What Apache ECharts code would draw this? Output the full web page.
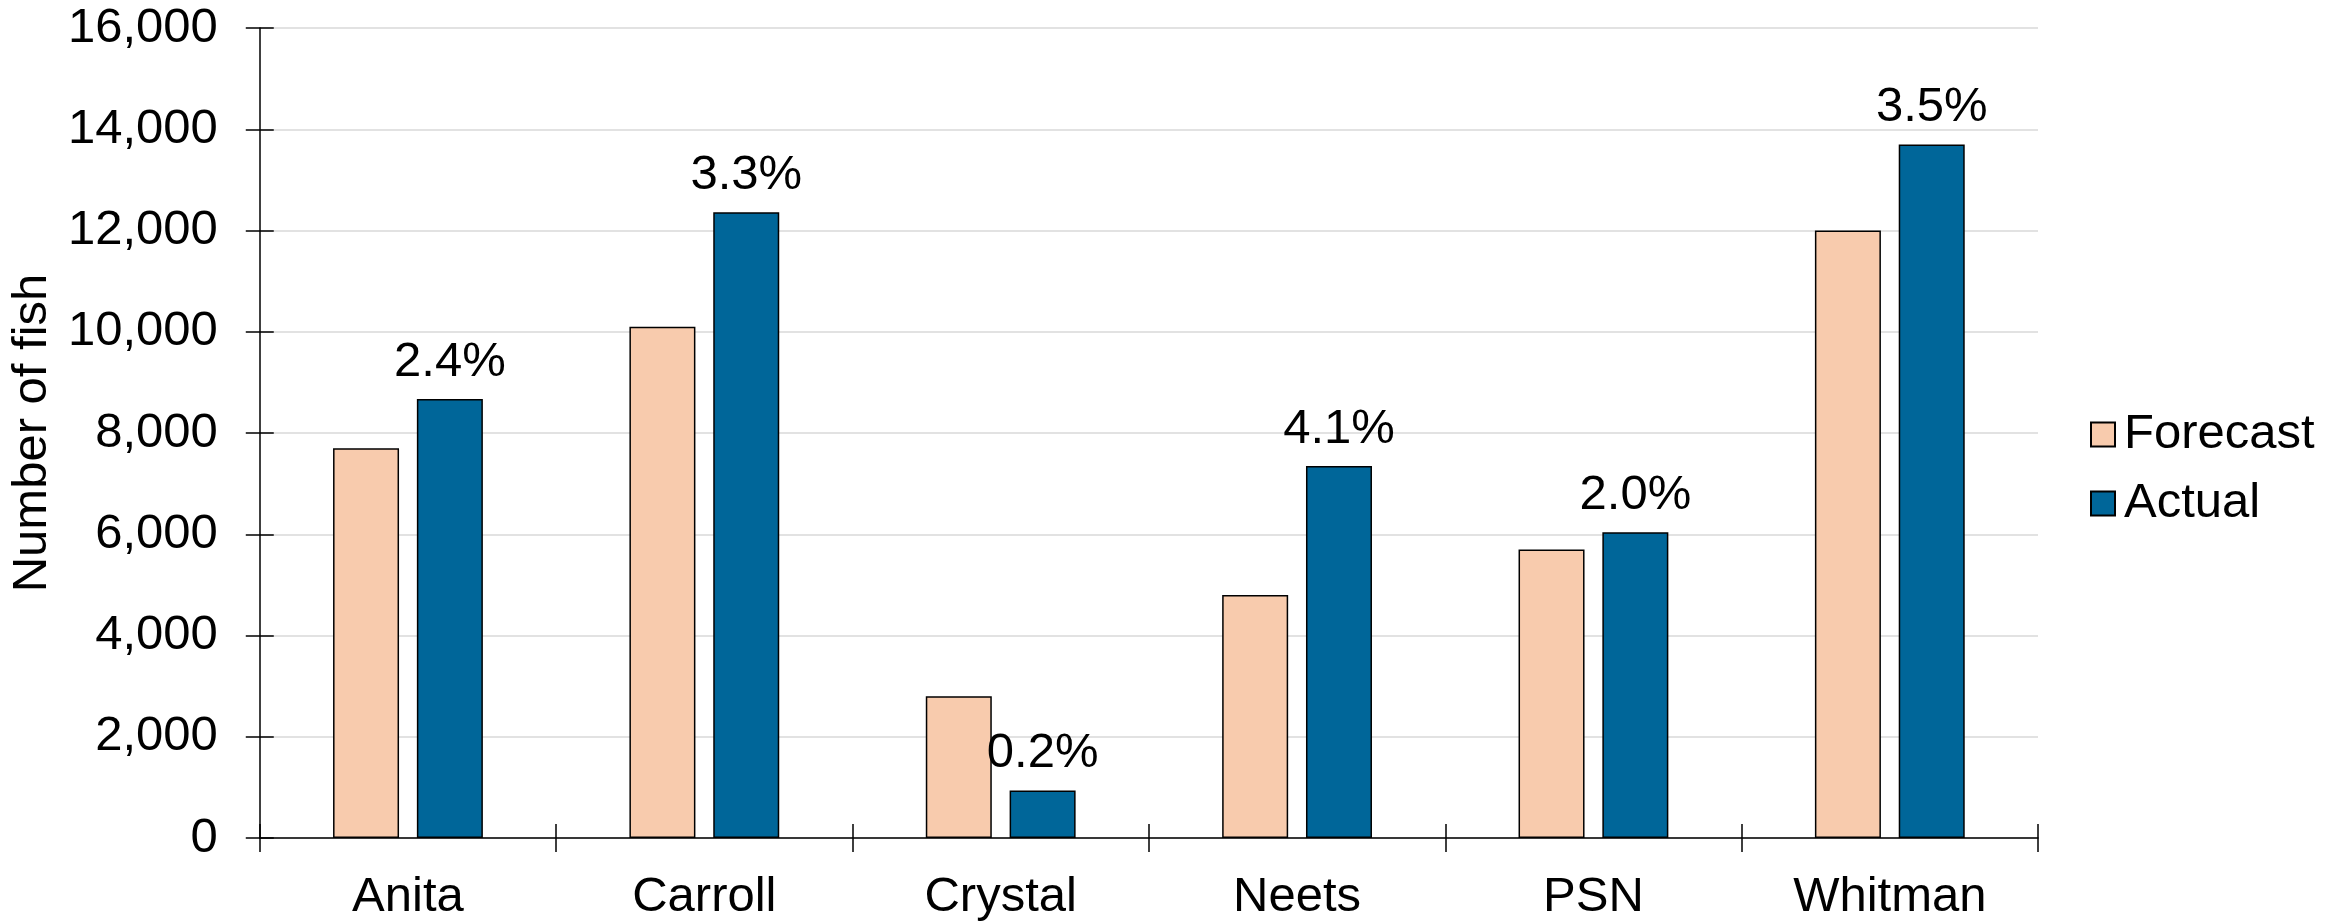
<!DOCTYPE html>
<html>
<head>
<meta charset="utf-8">
<script src="https://cdn.jsdelivr.net/npm/echarts@6/dist/echarts.min.js"></script>
<style>
html,body{margin:0;padding:0;background:#fff;}
#chart{width:2339px;height:922px;}
</style>
</head>
<body>
<div id="chart"></div>
<script>
const categories = ['Anita', 'Carroll', 'Crystal', 'Neets', 'PSN', 'Whitman'];
const forecast = [7700, 10100, 2800, 4800, 5700, 12000];
const actual = [8670, 12360, 940, 7350, 6040, 13700];
const pctLabels = ['2.4%', '3.3%', '0.2%', '4.1%', '2.0%', '3.5%'];
const seriesNames = ['Forecast', 'Actual'];
const yAxisName = 'Number of fish';

const FONT = '"Liberation Sans", Arial, sans-serif';
const FS = 49;
const chart = echarts.init(document.getElementById('chart'), null, {renderer: 'canvas'});

const option = {
  backgroundColor: '#fff',
  animation: false,
  textStyle: {fontFamily: FONT, color: '#000'},
  grid: {left: 257, right: 301, top: 28, bottom: 82, containLabel: false},
  legend: {
    orient: 'vertical',
    left: 2085,
    top: 405,
    itemWidth: 24,
    itemHeight: 24,
    itemGap: 20,
    icon: 'rect',
    data: seriesNames,
    textStyle: {fontFamily: FONT, fontSize: FS, lineHeight: FS, color: '#000', padding: [0, 0, 0, 4]}
  },
  xAxis: [
    {
      type: 'category',
      data: categories,
      position: 'bottom',
      axisLine: {show: true, lineStyle: {color: '#000', width: 1.5}},
      axisTick: {show: true, inside: false, length: 14, lineStyle: {color: '#000', width: 1.5}},
      axisLabel: {fontFamily: FONT, fontSize: FS, lineHeight: FS, color: '#000', margin: 35},
      splitLine: {show: false}
    },
    {
      type: 'category',
      data: categories,
      position: 'bottom',
      axisLine: {show: false},
      axisTick: {show: true, inside: true, length: 14, lineStyle: {color: '#000', width: 1.5}},
      axisLabel: {show: false},
      splitLine: {show: false}
    }
  ],
  yAxis: [
    {
      type: 'value',
      min: 0,
      max: 16000,
      interval: 2000,
      position: 'left',
      name: yAxisName,
      nameLocation: 'middle',
      nameRotate: 90,
      nameGap: 193,
      nameTextStyle: {fontFamily: FONT, fontSize: FS, lineHeight: FS, color: '#000'},
      axisLine: {show: true, lineStyle: {color: '#000', width: 1.5}},
      axisTick: {show: true, inside: false, length: 14, lineStyle: {color: '#000', width: 1.5}},
      axisLabel: {
        fontFamily: FONT, fontSize: FS, lineHeight: FS, color: '#000', margin: 42,
        formatter: v => v.toLocaleString('en-US')
      },
      splitLine: {show: true, lineStyle: {color: '#d9d9d9', width: 1.5}}
    },
    {
      type: 'value',
      min: 0,
      max: 16000,
      interval: 2000,
      position: 'left',
      axisLine: {show: false},
      axisTick: {show: true, inside: true, length: 14, lineStyle: {color: '#000', width: 1.5}},
      axisLabel: {show: false},
      splitLine: {show: false}
    }
  ],
  series: [
    {
      name: seriesNames[0],
      type: 'bar',
      xAxisIndex: 0,
      yAxisIndex: 0,
      data: forecast,
      barWidth: 66,
      barGap: '27%',
      itemStyle: {color: '#F8CBAD', borderColor: '#000', borderWidth: 1.5}
    },
    {
      name: seriesNames[1],
      type: 'bar',
      xAxisIndex: 0,
      yAxisIndex: 0,
      data: actual,
      barWidth: 66,
      barGap: '27%',
      z: 3,
      itemStyle: {color: '#006699', borderColor: '#000', borderWidth: 1.5},
      label: {
        show: true,
        position: 'top',
        distance: 12,
        fontFamily: FONT,
        fontSize: FS,
        lineHeight: FS,
        color: '#000',
        formatter: p => pctLabels[p.dataIndex]
      }
    }
  ]
};
chart.setOption(option);
</script>
</body>
</html>
